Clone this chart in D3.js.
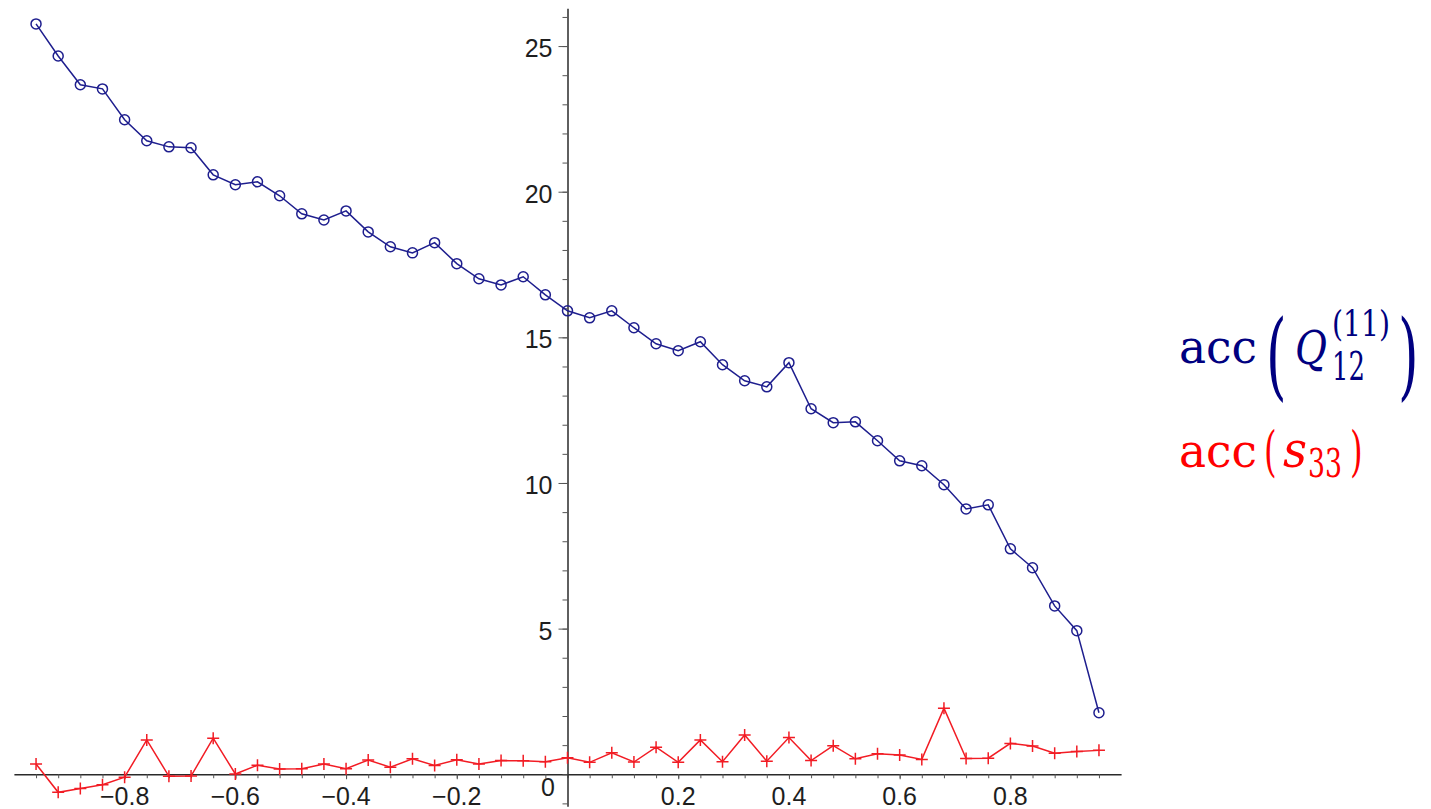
<!DOCTYPE html>
<html><head><meta charset="utf-8">
<script src="https://cdn.jsdelivr.net/npm/d3@7"></script>
<style>body{margin:0;background:#fff;overflow:hidden}</style>
</head><body>
<svg id="chart" width="1431" height="809"></svg>
<script>
// ---- data ----
const xValues = [-0.96,-0.92,-0.88,-0.84,-0.80,-0.76,-0.72,-0.68,-0.64,-0.60,-0.56,-0.52,-0.48,-0.44,-0.40,-0.36,-0.32,-0.28,-0.24,-0.20,-0.16,-0.12,-0.08,-0.04,0.00,0.04,0.08,0.12,0.16,0.20,0.24,0.28,0.32,0.36,0.40,0.44,0.48,0.52,0.56,0.60,0.64,0.68,0.72,0.76,0.80,0.84,0.88,0.92,0.96];
const accQ = [25.76,24.66,23.67,23.53,22.47,21.75,21.54,21.51,20.58,20.24,20.34,19.86,19.24,19.03,19.34,18.62,18.11,17.90,18.25,17.53,17.01,16.80,17.08,16.46,15.91,15.67,15.91,15.33,14.78,14.54,14.85,14.06,13.51,13.30,14.13,12.55,12.07,12.10,11.45,10.76,10.59,9.94,9.11,9.25,7.74,7.09,5.78,4.93,2.11];
const accS = [0.35,-0.62,-0.49,-0.36,-0.10,1.18,-0.07,-0.06,1.24,0.01,0.31,0.18,0.19,0.35,0.19,0.49,0.24,0.53,0.30,0.50,0.35,0.47,0.46,0.43,0.57,0.41,0.74,0.42,0.93,0.41,1.18,0.43,1.35,0.45,1.26,0.47,0.98,0.53,0.70,0.66,0.51,2.27,0.54,0.55,1.06,0.97,0.72,0.78,0.82];
const xTickValues = [-0.8,-0.6,-0.4,-0.2,0.2,0.4,0.6,0.8];
const xTickLabels = ["\u22120.8","\u22120.6","\u22120.4","\u22120.2","0.2","0.4","0.6","0.8"];
const yTickValues = [5,10,15,20,25];
const yTickLabels = ["5","10","15","20","25"];
const originLabel = "0";

// ---- setup ----
const svg = d3.select("#chart");
const x = d3.scaleLinear().domain([-1, 1]).range([13.9, 1121.1]);
const y = d3.scaleLinear().domain([-1.1, 26.3]).range([806.3, 8.2]);
const axisColor = "#2a2a2a";
const blue = "#1e1e8e", red = "#f21c24";
const labelFont = "'Liberation Sans', Arial, sans-serif";

// x axis (minor ticks at each sample, major at labels)
const gx = svg.append("g").attr("transform", `translate(0,${y(0)})`);
gx.call(d3.axisBottom(x).tickValues(xValues).tickSize(4).tickSizeOuter(0).tickFormat(""));
gx.select(".domain").attr("stroke", axisColor).attr("stroke-width", 1.5);
gx.selectAll(".tick line").attr("stroke", "#555").attr("stroke-width", 1);
const gx2 = svg.append("g").attr("transform", `translate(0,${y(0)})`);
gx2.call(d3.axisBottom(x).tickValues(xTickValues).tickSize(5).tickFormat(""));
gx2.select(".domain").remove();
gx2.selectAll(".tick line").attr("stroke", "#555").attr("stroke-width", 1);

svg.append("g").selectAll("text").data(xTickValues).join("text")
  .attr("x", d => x(d)).attr("y", y(0) + 31)
  .attr("text-anchor", "middle")
  .attr("font-family", labelFont).attr("font-size", 25).attr("fill", "#1e1e1e")
  .text((d, i) => xTickLabels[i]);

// y axis
const gy = svg.append("g").attr("transform", `translate(${x(0)},0)`);
gy.call(d3.axisLeft(y).tickValues(d3.range(-1, 27)).tickSize(5).tickSizeOuter(0).tickFormat(""));
gy.select(".domain").attr("stroke", axisColor).attr("stroke-width", 1.5);
gy.selectAll(".tick line").attr("stroke", "#555").attr("stroke-width", 1);
const gy2 = svg.append("g").attr("transform", `translate(${x(0)},0)`);
gy2.call(d3.axisLeft(y).tickValues(yTickValues).tickSize(9).tickFormat(""));
gy2.select(".domain").remove();
gy2.selectAll(".tick line").attr("stroke", "#555").attr("stroke-width", 1);

svg.append("g").selectAll("text").data(yTickValues).join("text")
  .attr("x", x(0) - 15).attr("y", d => y(d) + 11)
  .attr("text-anchor", "end")
  .attr("font-family", labelFont).attr("font-size", 25).attr("fill", "#1e1e1e")
  .text((d, i) => yTickLabels[i]);

svg.append("text")
  .attr("x", x(0) - 12.5).attr("y", y(0) + 21.7)
  .attr("text-anchor", "end")
  .attr("font-family", labelFont).attr("font-size", 25).attr("fill", "#1e1e1e")
  .text(originLabel);

// ---- series ----
const line = d3.line().x(d => x(d[0])).y(d => y(d[1]));
const qData = xValues.map((v, i) => [v, accQ[i]]);
const sData = xValues.map((v, i) => [v, accS[i]]);

svg.append("path").datum(sData).attr("d", line)
  .attr("fill", "none").attr("stroke", red).attr("stroke-width", 1.5);
svg.append("g").selectAll("path").data(sData).join("path")
  .attr("transform", d => `translate(${x(d[0])},${y(d[1])})`)
  .attr("d", "M-6,0H6M0,-6V6")
  .attr("stroke", red).attr("stroke-width", 1.5);

svg.append("path").datum(qData).attr("d", line)
  .attr("fill", "none").attr("stroke", blue).attr("stroke-width", 1.5);
svg.append("g").selectAll("circle").data(qData).join("circle")
  .attr("cx", d => x(d[0])).attr("cy", d => y(d[1])).attr("r", 5)
  .attr("fill", "none").attr("stroke", blue).attr("stroke-width", 1.5);

// ---- legend ----
const legFont = "'DejaVu Serif', 'Liberation Serif', serif";
const navy = "#000080", lred = "#ff0000";
const L = svg.append("g").attr("font-family", legFont);
function fit(t, w) { return t.attr("textLength", w).attr("lengthAdjust", "spacingAndGlyphs"); }
// line 1
fit(L.append("text").attr("x", 1179).attr("y", 363).attr("font-size", 46).attr("fill", navy).text("acc"), 78);
L.append("text").attr("transform", "translate(1266,388) scale(0.55,1)").attr("font-size", 96)
  .attr("font-weight", 300).attr("fill", navy).text("(");
fit(L.append("text").attr("x", 1295).attr("y", 364).attr("font-size", 46).attr("fill", navy)
  .attr("font-style", "italic").text("Q"), 32);
fit(L.append("text").attr("x", 1332).attr("y", 336).attr("font-size", 36).attr("fill", navy).text("(11)"), 58);
fit(L.append("text").attr("x", 1332).attr("y", 380).attr("font-size", 40).attr("fill", navy).text("12"), 33);
L.append("text").attr("transform", "translate(1398,388) scale(0.55,1)").attr("font-size", 96)
  .attr("font-weight", 300).attr("fill", navy).text(")");
// line 2
fit(L.append("text").attr("x", 1179).attr("y", 467).attr("font-size", 46).attr("fill", lred).text("acc"), 78);
L.append("text").attr("transform", "translate(1264,470) scale(0.6,1)").attr("font-size", 54)
  .attr("fill", lred).text("(");
fit(L.append("text").attr("x", 1283).attr("y", 467).attr("font-size", 50).attr("fill", lred)
  .attr("font-style", "italic").text("s"), 24);
fit(L.append("text").attr("x", 1308).attr("y", 477).attr("font-size", 40).attr("fill", lred).text("33"), 34);
L.append("text").attr("transform", "translate(1350,470) scale(0.6,1)").attr("font-size", 54)
  .attr("fill", lred).text(")");
</script>
</body></html>
